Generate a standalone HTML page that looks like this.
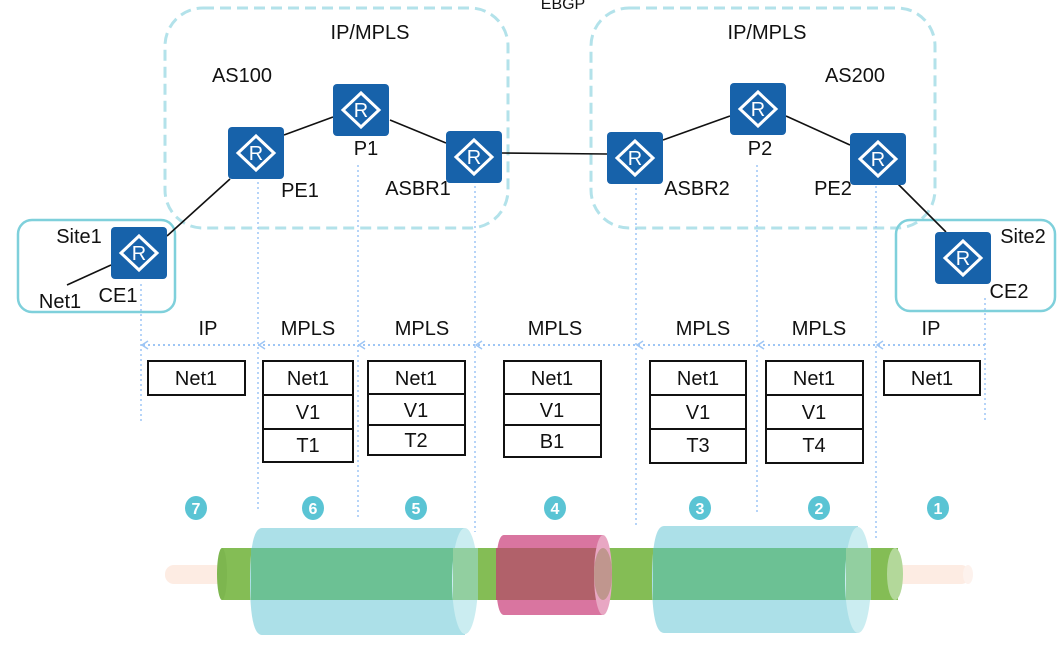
<!DOCTYPE html>
<html><head><meta charset="utf-8"><style>
html,body{margin:0;padding:0;background:#fff;}
svg{display:block;}
text{font-family:"Liberation Sans","DejaVu Sans",sans-serif;fill:#111;}
</style></head><body>
<svg width="1058" height="646" viewBox="0 0 1058 646" xmlns="http://www.w3.org/2000/svg">
<defs>
<g id="r">
<rect x="0" y="0" width="56" height="52" rx="4" fill="#1762aa"/>
<polygon points="28,9 46,26 28,43 10,26" fill="none" stroke="#fff" stroke-width="3"/>
<text x="28" y="33" text-anchor="middle" font-size="20" style="fill:#fff">R</text>
</g>
</defs>
<rect x="165" y="8" width="343" height="220" rx="38" fill="none" stroke="#b3e2ea" stroke-width="3" stroke-dasharray="11,6"/>
<rect x="591" y="8" width="344" height="220" rx="38" fill="none" stroke="#b3e2ea" stroke-width="3" stroke-dasharray="11,6"/>
<rect x="18" y="220" width="157" height="92" rx="14" fill="none" stroke="#7fd0db" stroke-width="2.5"/>
<rect x="896" y="220" width="159" height="91" rx="14" fill="none" stroke="#7fd0db" stroke-width="2.5"/>
<g stroke="#111" stroke-width="1.6">
<line x1="67" y1="285" x2="111" y2="265"/>
<line x1="167" y1="236" x2="230" y2="179"/>
<line x1="284" y1="135" x2="333" y2="117"/>
<line x1="390" y1="120" x2="446" y2="143"/>
<line x1="502" y1="153" x2="607" y2="154"/>
<line x1="663" y1="140" x2="730" y2="116"/>
<line x1="786" y1="116" x2="850" y2="145"/>
<line x1="898" y1="184" x2="946" y2="232"/>
</g>
<g stroke="#9ec6f5" stroke-width="1.5" stroke-dasharray="2,3">
<line x1="141" y1="284" x2="141" y2="422"/>
<line x1="258" y1="182" x2="258" y2="512"/>
<line x1="358" y1="165" x2="358" y2="517"/>
<line x1="475" y1="186" x2="475" y2="532"/>
<line x1="636" y1="188" x2="636" y2="528"/>
<line x1="757" y1="165" x2="757" y2="515"/>
<line x1="876" y1="186" x2="876" y2="540"/>
<line x1="985" y1="298" x2="985" y2="420"/>
</g>
<g stroke="#9ec6f5" stroke-width="2" stroke-dasharray="2,3" fill="none">
<line x1="143" y1="345" x2="985" y2="345"/>
</g>
<g stroke="#9ec6f5" stroke-width="1.5" fill="none">
<polyline points="148,341 142,345 148,349"/>
<polyline points="265,341 259,345 265,349"/>
<polyline points="365,341 359,345 365,349"/>
<polyline points="482,341 476,345 482,349"/>
<polyline points="643,341 637,345 643,349"/>
<polyline points="764,341 758,345 764,349"/>
<polyline points="883,341 877,345 883,349"/>
</g>
<use href="#r" x="111" y="227"/>
<use href="#r" x="228" y="127"/>
<use href="#r" x="333" y="84"/>
<use href="#r" x="446" y="131"/>
<use href="#r" x="607" y="132"/>
<use href="#r" x="730" y="83"/>
<use href="#r" x="850" y="133"/>
<use href="#r" x="935" y="232"/>
<g font-size="20">
<text x="370" y="39" text-anchor="middle">IP/MPLS</text>
<text x="767" y="39" text-anchor="middle">IP/MPLS</text>
<text x="242" y="82" text-anchor="middle">AS100</text>
<text x="855" y="82" text-anchor="middle">AS200</text>
<text x="366" y="155" text-anchor="middle">P1</text>
<text x="760" y="155" text-anchor="middle">P2</text>
<text x="300" y="197" text-anchor="middle">PE1</text>
<text x="418" y="195" text-anchor="middle">ASBR1</text>
<text x="697" y="195" text-anchor="middle">ASBR2</text>
<text x="833" y="195" text-anchor="middle">PE2</text>
<text x="79" y="243" text-anchor="middle">Site1</text>
<text x="1023" y="243" text-anchor="middle">Site2</text>
<text x="118" y="302" text-anchor="middle">CE1</text>
<text x="60" y="308" text-anchor="middle">Net1</text>
<text x="1009" y="298" text-anchor="middle">CE2</text>
<text x="208" y="335" text-anchor="middle">IP</text>
<text x="308" y="335" text-anchor="middle">MPLS</text>
<text x="422" y="335" text-anchor="middle">MPLS</text>
<text x="555" y="335" text-anchor="middle">MPLS</text>
<text x="703" y="335" text-anchor="middle">MPLS</text>
<text x="819" y="335" text-anchor="middle">MPLS</text>
<text x="931" y="335" text-anchor="middle">IP</text>
</g>
<text x="563" y="9" text-anchor="middle" font-size="16">EBGP</text>
<g fill="#fff" stroke="#111" stroke-width="2">
<rect x="148" y="361" width="97" height="34"/>
<rect x="263" y="361" width="90" height="34"/><rect x="263" y="395" width="90" height="34"/><rect x="263" y="429" width="90" height="33"/>
<rect x="368" y="361" width="97" height="33"/><rect x="368" y="394" width="97" height="31"/><rect x="368" y="425" width="97" height="30"/>
<rect x="504" y="361" width="97" height="33"/><rect x="504" y="394" width="97" height="31"/><rect x="504" y="425" width="97" height="32"/>
<rect x="650" y="361" width="96" height="34"/><rect x="650" y="395" width="96" height="34"/><rect x="650" y="429" width="96" height="34"/>
<rect x="766" y="361" width="97" height="34"/><rect x="766" y="395" width="97" height="34"/><rect x="766" y="429" width="97" height="34"/>
<rect x="884" y="361" width="96" height="34"/>
</g>
<g font-size="20" text-anchor="middle">
<text x="196" y="385">Net1</text>
<text x="308" y="385">Net1</text><text x="308" y="419">V1</text><text x="308" y="452">T1</text>
<text x="416" y="385">Net1</text><text x="416" y="417">V1</text><text x="416" y="447">T2</text>
<text x="552" y="385">Net1</text><text x="552" y="417">V1</text><text x="552" y="448">B1</text>
<text x="698" y="385">Net1</text><text x="698" y="419">V1</text><text x="698" y="452">T3</text>
<text x="814" y="385">Net1</text><text x="814" y="419">V1</text><text x="814" y="452">T4</text>
<text x="932" y="385">Net1</text>
</g>
<g fill="#5ac4d4">
<ellipse cx="196" cy="508" rx="11" ry="12"/><ellipse cx="313" cy="508" rx="11" ry="12"/>
<ellipse cx="416" cy="508" rx="11" ry="12"/><ellipse cx="555" cy="508" rx="11" ry="12"/>
<ellipse cx="700" cy="508" rx="11" ry="12"/><ellipse cx="819" cy="508" rx="11" ry="12"/>
<ellipse cx="938" cy="508" rx="11" ry="12"/>
</g>
<g font-size="16" text-anchor="middle" style="font-weight:bold">
<text x="196" y="514" style="fill:#fff">7</text><text x="313" y="514" style="fill:#fff">6</text>
<text x="416" y="514" style="fill:#fff">5</text><text x="555" y="514" style="fill:#fff">4</text>
<text x="700" y="514" style="fill:#fff">3</text><text x="819" y="514" style="fill:#fff">2</text>
<text x="938" y="514" style="fill:#fff">1</text>
</g>
<rect x="165" y="565" width="805" height="19" rx="9" fill="#fdece3"/>
<ellipse cx="968" cy="574.5" rx="5" ry="9.5" fill="#fdf2ed"/>
<rect x="222" y="548" width="676" height="52" fill="#84bd55"/>
<ellipse cx="222" cy="574" rx="5" ry="26" fill="#7db64f"/>
<ellipse cx="895" cy="574" rx="8" ry="26" fill="#b3d89a"/>
<!-- cylinder 1 -->
<path d="M262,528 L465,528 L465,635 L262,635 Q250,635 250,581 Q250,528 262,528 Z" fill="#ace0e8"/>
<rect x="251" y="548" width="214" height="52" fill="#6cc194"/>
<ellipse cx="465" cy="581" rx="13" ry="53" fill="#cbedf1"/>
<rect x="453" y="548" width="25" height="52" fill="#92cfa0"/>
<!-- pink -->
<path d="M504,535 L603,535 L603,615 L504,615 Q496,615 496,575 Q496,535 504,535 Z" fill="#d975a0"/>
<rect x="496" y="548" width="107" height="52" fill="#b1616a"/>
<ellipse cx="603" cy="575" rx="9" ry="40" fill="#e8a7c3"/>
<ellipse cx="603" cy="574" rx="9" ry="26" fill="#c0968e"/>
<!-- cylinder 2 -->
<path d="M664,526 L858,526 L858,633 L664,633 Q652,633 652,580 Q652,526 664,526 Z" fill="#ace0e8"/>
<rect x="653" y="548" width="205" height="52" fill="#6cc194"/>
<ellipse cx="858" cy="580" rx="13" ry="53" fill="#cbedf1"/>
<rect x="846" y="548" width="25" height="52" fill="#92cfa0"/>
</svg>
</body></html>
